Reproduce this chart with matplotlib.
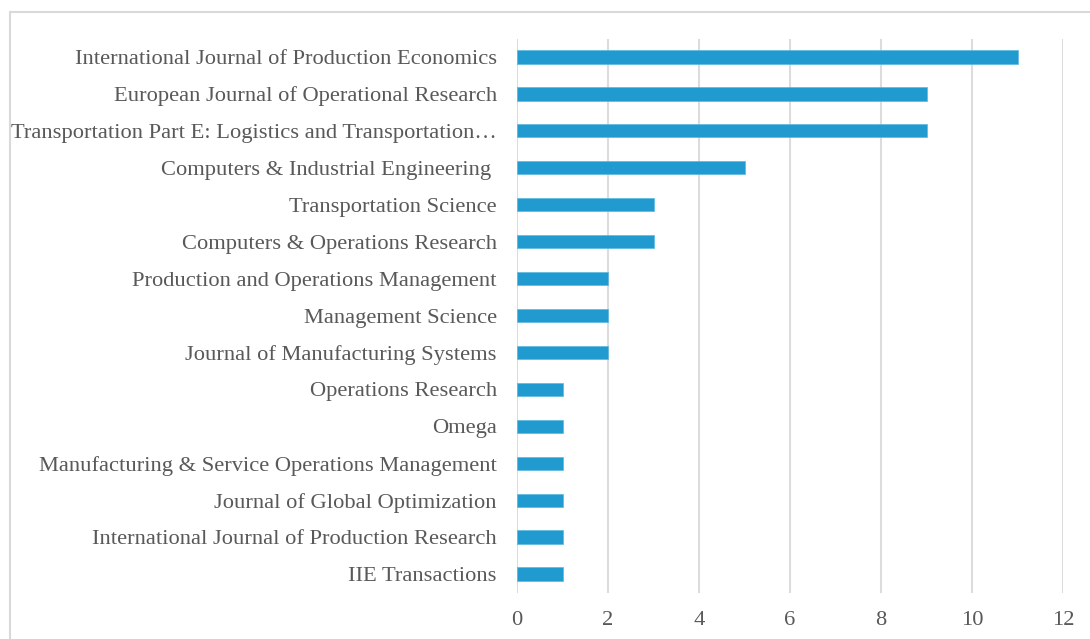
import matplotlib
matplotlib.use("Agg")
import matplotlib.pyplot as plt
from matplotlib.patches import Rectangle

journals = [
    "International Journal of Production Economics",
    "European Journal of Operational Research",
    "Transportation Part E: Logistics and Transportation\u2026",
    "Computers & Industrial Engineering ",
    "Transportation Science",
    "Computers & Operations Research",
    "Production and Operations Management",
    "Management Science",
    "Journal of Manufacturing Systems",
    "Operations Research",
    "Omega",
    "Manufacturing & Service Operations Management",
    "Journal of Global Optimization",
    "International Journal of Production Research",
    "IIE Transactions",
]
counts = [11, 9, 9, 5, 3, 3, 2, 2, 2, 1, 1, 1, 1, 1, 1]
xticks = [0, 2, 4, 6, 8, 10, 12]

plt.rcParams['font.family'] = ['Liberation Serif', 'DejaVu Serif']

fig = plt.figure(figsize=(10.9, 6.39), dpi=100)
fig.patches.append(Rectangle((10/1090, -0.1), 1.2, 1 - 12/639 + 0.1,
                             transform=fig.transFigure, fill=False,
                             edgecolor='#d9d9d9', linewidth=1.5))
ax = fig.add_axes([517/1090, 46.5/639, 546/1090, 554/639])

n = len(journals)
ypos = list(range(n))[::-1]
ax.barh(ypos, counts, height=0.36, color='#209ACF', edgecolor='#5BB8E0', linewidth=0.5, zorder=3)
ax.set_yticks(ypos)
ax.set_yticklabels(journals)
ax.set_ylim(-0.5, n - 0.5)
ax.set_xlim(0, 12)
ax.set_xticks(xticks)
ax.set_xticklabels([str(t) for t in xticks])
ax.grid(axis='x', color='#dcdcdc', linewidth=1.5, zorder=0)
for s in ax.spines.values():
    s.set_visible(False)
ax.tick_params(axis='both', length=0, colors='#595959', labelsize=16.2)
ax.tick_params(axis='y', pad=14.5)
ax.tick_params(axis='x', pad=13.5)

fig.savefig("out.png", dpi=100)
